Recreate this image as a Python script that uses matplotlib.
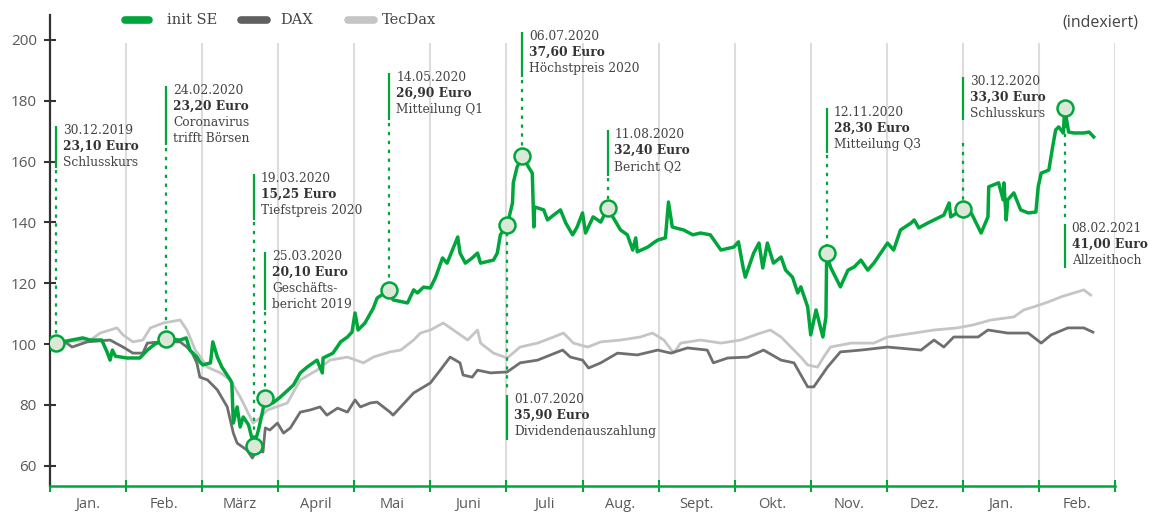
"""init SE share price vs. DAX and TecDax, indexed to 30.12.2019 = 100."""

import matplotlib

matplotlib.use("Agg")
import matplotlib.pyplot as plt
from matplotlib.lines import Line2D

GREEN = "#00a63c"
DAX_GREY = "#6f6f6f"
TEC_GREY = "#c5c5c5"
GRID_GREY = "#dcdcdc"
TEXT_GREY = "#444444"
MARKER_FACE = "#dbe7d7"

months = ["Jan.", "Feb.", "März", "April", "Mai", "Juni", "Juli",
          "Aug.", "Sept.", "Okt.", "Nov.", "Dez.", "Jan.", "Feb."]

# x = months since 1 Jan 2020 (as placed on the chart), y = index value
init_x = [0.08, 0.29, 0.43, 0.53, 0.68, 0.75, 0.79, 0.82, 0.86, 1.01, 1.18, 1.28, 1.38, 1.53,
          1.71, 1.79, 1.84, 1.93, 1.97, 2.01, 2.11, 2.14, 2.20, 2.26, 2.37, 2.39, 2.41, 2.46,
          2.50, 2.54, 2.61, 2.68, 2.74, 2.79, 2.83, 2.93, 3.03, 3.20, 3.29, 3.38, 3.51, 3.58,
          3.59, 3.72, 3.82, 3.91, 3.97, 4.01, 4.05, 4.14, 4.25, 4.30, 4.46, 4.51, 4.70, 4.78,
          4.83, 4.91, 5.00, 5.07, 5.16, 5.22, 5.29, 5.36, 5.39, 5.46, 5.55, 5.62, 5.66, 5.83,
          5.88, 5.92, 6.01, 6.08, 6.09, 6.14, 6.21, 6.29, 6.34, 6.36, 6.37, 6.49, 6.54, 6.62,
          6.71, 6.78, 6.87, 6.93, 7.00, 7.04, 7.14, 7.24, 7.33, 7.50, 7.59, 7.66, 7.70, 7.72,
          7.86, 7.93, 7.99, 8.09, 8.13, 8.18, 8.22, 8.33, 8.45, 8.55, 8.68, 8.82, 8.99, 9.05,
          9.11, 9.14, 9.25, 9.32, 9.37, 9.43, 9.51, 9.61, 9.67, 9.76, 9.83, 9.87, 9.96, 10.00,
          10.07, 10.16, 10.20, 10.21, 10.26, 10.39, 10.49, 10.57, 10.66, 10.75, 10.83, 10.92,
          11.01, 11.09, 11.18, 11.32, 11.36, 11.42, 11.54, 11.67, 11.75, 11.82, 11.84, 12.00,
          12.11, 12.24, 12.33, 12.34, 12.47, 12.53, 12.54, 12.57, 12.59, 12.67, 12.76, 12.86,
          12.96, 12.99, 13.03, 13.13, 13.18, 13.22, 13.26, 13.32, 13.34, 13.39, 13.46, 13.59,
          13.66, 13.72]
init_y = [100.3, 101.3, 102.0, 101.3, 101.3, 97.4, 94.7, 98.0, 96.0, 95.4, 95.4, 98.0, 100.0, 101.6,
          101.3, 102.0, 98.0, 95.7, 94.1, 93.1, 93.8, 100.7, 95.7, 92.4, 88.2, 87.2, 74.0, 79.3,
          72.7, 76.0, 73.4, 66.4, 71.7, 77.3, 82.2, 80.6, 82.6, 86.5, 90.5, 92.4, 94.7, 90.5,
          95.4, 97.0, 100.7, 102.3, 103.9, 110.2, 104.6, 106.9, 111.8, 115.1, 117.8, 114.5, 113.5, 117.8,
          116.8, 118.7, 118.4, 122.0, 128.3, 126.6, 130.9, 135.2, 129.9, 126.6, 128.3, 129.9, 126.6, 127.6,
          129.9, 135.9, 139.1, 146.4, 153.0, 158.2, 161.8, 158.2, 156.2, 138.5, 145.1, 144.1, 140.8, 142.4,
          144.1, 139.8, 135.9, 138.5, 143.1, 136.5, 141.8, 140.1, 144.7, 137.5, 135.9, 130.9, 134.9, 130.3,
          131.9, 133.2, 134.2, 134.9, 146.7, 138.5, 138.2, 137.5, 135.9, 136.5, 135.9, 130.9, 131.9, 133.6,
          125.3, 122.0, 129.9, 133.2, 125.0, 133.2, 126.6, 128.6, 124.3, 122.0, 116.8, 118.8, 112.2, 103.0,
          111.2, 102.3, 108.9, 129.9, 125.3, 118.8, 124.3, 125.3, 127.6, 124.3, 126.6, 129.9,
          133.2, 130.9, 137.5, 139.8, 140.8, 138.2, 139.8, 141.4, 142.4, 146.4, 141.8, 144.4,
          143.1, 136.5, 141.8, 151.7, 153.0, 147.4, 153.0, 140.8, 147.4, 149.7, 144.1, 143.1,
          143.4, 151.7, 156.2, 157.2, 164.8, 170.4, 171.4, 169.4, 177.6, 169.7, 169.4, 169.4,
          169.7, 168.1]

dax_x = [0.08, 0.22, 0.29, 0.49, 0.79, 0.96, 1.09, 1.22, 1.28, 1.45, 1.71, 1.80, 1.87, 1.93,
         1.97, 2.07, 2.20, 2.33, 2.41, 2.46, 2.59, 2.66, 2.72, 2.80, 2.83, 2.89, 2.99, 3.07,
         3.16, 3.29, 3.42, 3.55, 3.64, 3.78, 3.91, 4.01, 4.08, 4.21, 4.30, 4.47, 4.51, 4.61,
         4.78, 5.00, 5.13, 5.26, 5.39, 5.43, 5.55, 5.62, 5.79, 6.01, 6.18, 6.41, 6.58, 6.74,
         6.84, 7.00, 7.08, 7.24, 7.46, 7.72, 7.99, 8.16, 8.38, 8.64, 8.72, 8.91, 9.17, 9.38,
         9.61, 9.78, 9.96, 10.04, 10.22, 10.39, 10.66, 11.01, 11.45, 11.62, 11.75, 11.88, 12.20,
         12.33, 12.59, 12.86, 13.03, 13.16, 13.38, 13.59, 13.71]
dax_y = [100.3, 100.3, 99.0, 100.7, 101.3, 99.0, 97.0, 97.0, 100.3, 100.7, 100.7, 99.0, 97.0, 93.8,
         89.1, 88.2, 84.9, 79.3, 70.7, 67.4, 65.1, 62.5, 65.1, 64.5, 72.4, 71.7, 74.0, 70.7,
         72.4, 77.6, 78.3, 79.3, 76.6, 78.9, 77.6, 81.6, 79.3, 80.6, 80.9, 77.6, 76.6, 79.3,
         83.9, 87.2, 91.4, 95.7, 93.8, 89.8, 89.1, 91.4, 90.5, 90.8, 93.8, 94.7, 96.4, 98.0,
         95.7, 94.7, 92.1, 93.8, 97.0, 96.4, 98.0, 97.0, 98.7, 98.0, 93.8, 95.4, 95.7, 98.0,
         94.7, 93.8, 85.9, 85.9, 92.4, 97.4, 98.0, 99.0, 98.0, 101.3, 99.0, 102.3, 102.3,
         104.6, 103.6, 103.6, 100.3, 103.0, 105.3, 105.3, 103.9]

tec_x = [0.08, 0.17, 0.53, 0.66, 0.88, 0.96, 1.09, 1.22, 1.32, 1.49, 1.71, 1.80, 1.91, 2.07,
         2.24, 2.37, 2.50, 2.67, 2.76, 2.86, 3.12, 3.29, 3.51, 3.68, 3.91, 4.12, 4.25, 4.47,
         4.61, 4.78, 4.87, 5.00, 5.17, 5.36, 5.49, 5.62, 5.66, 5.83, 6.01, 6.18, 6.41, 6.62,
         6.75, 6.88, 7.07, 7.24, 7.50, 7.76, 7.92, 8.07, 8.20, 8.29, 8.55, 8.82, 9.08, 9.34,
         9.47, 9.61, 9.74, 9.87, 9.96, 10.09, 10.17, 10.26, 10.53, 10.83, 11.01, 11.36, 11.62,
         11.93, 12.14, 12.37, 12.67, 12.80, 12.93, 13.12, 13.29, 13.46, 13.59, 13.68]
tec_y = [100.3, 100.7, 101.3, 103.6, 105.3, 103.0, 100.7, 101.3, 105.3, 106.9, 107.9, 104.6, 98.0, 92.4,
         90.5, 88.2, 82.6, 74.0, 75.7, 78.3, 80.6, 88.2, 91.4, 94.7, 95.7, 93.8, 95.7, 97.4,
         98.0, 101.3, 103.6, 104.6, 106.9, 103.6, 101.3, 104.6, 100.3, 97.0, 95.4, 99.0, 100.3, 102.3,
         103.6, 100.3, 99.0, 100.7, 101.3, 102.3, 103.6, 101.3, 97.0, 100.3, 101.3, 100.3, 101.3, 103.6,
         104.6, 102.3, 99.0, 95.7, 93.1, 92.4, 95.7, 99.0, 100.3, 100.3, 102.3, 103.6, 104.6,
         105.3, 106.3, 107.9, 108.9, 111.2, 112.2, 113.8, 115.5, 116.8, 117.8, 116.1]

# highlighted events on the init SE line
event_x = [0.08, 1.53, 2.68, 2.83, 4.46, 6.01, 6.21, 7.33, 10.21, 12.00, 13.34]
event_y = [100.3, 101.6, 66.4, 82.2, 117.8, 139.1, 161.8, 144.7, 129.9, 144.4, 177.6]
event_date = ["30.12.2019", "24.02.2020", "19.03.2020", "25.03.2020", "14.05.2020", "01.07.2020",
              "06.07.2020", "11.08.2020", "12.11.2020", "30.12.2020", "08.02.2021"]
event_price = ["23,10 Euro", "23,20 Euro", "15,25 Euro", "20,10 Euro", "26,90 Euro", "35,90 Euro",
               "37,60 Euro", "32,40 Euro", "28,30 Euro", "33,30 Euro", "41,00 Euro"]
event_note = ["Schlusskurs", "Coronavirus\ntrifft Börsen", "Tiefstpreis 2020", "Geschäfts-\nbericht 2019",
              "Mitteilung Q1", "Dividendenauszahlung", "Höchstpreis 2020", "Bericht Q2",
              "Mitteilung Q3", "Schlusskurs", "Allzeithoch"]

# label layout: solid bar (top, bottom) and dotted leader (from, to), in index units
label_bar = [(171.7, 157.9), (184.9, 165.5), (155.9, 140.8), (130.3, 111.2), (189.1, 173.7),
             (83.2, 68.4), (202.6, 187.8), (170.4, 155.3), (177.6, 162.8), (187.8, 173.7),
             (139.5, 125.0)]
label_dots = [(157.2, 103.0), (164.5, 104.3), (140.1, 69.1), (110.5, 84.9), (172.7, 120.5),
              (136.4, 84.0), (186.8, 164.5), (154.6, 147.4), (162.1, 132.6), (166.1, 147.1),
              (174.9, 140.2)]

W, H = 1149, 513
fig = plt.figure(figsize=(W / 100, H / 100), dpi=100)
ax = fig.add_axes([50 / W, 27 / H, 1065 / W, 471 / H])
ax.set_xlim(0, 14)
ax.set_ylim(53.3, 208.2)

ax.vlines(range(1, 15), 53.3, 199, color=GRID_GREY, lw=1.5, zorder=0)

ax.plot(tec_x, tec_y, color=TEC_GREY, lw=2.0, zorder=2, solid_joinstyle="round")
ax.plot(dax_x, dax_y, color=DAX_GREY, lw=2.0, zorder=3, solid_joinstyle="round")
ax.plot(init_x, init_y, color=GREEN, lw=2.5, zorder=4, solid_joinstyle="round")

serif = "DejaVu Serif"
for i in range(len(event_x)):
    x = event_x[i]
    top, bottom = label_bar[i]
    ax.plot([x, x], [top, bottom], color=GREEN, lw=1.6, zorder=5, solid_capstyle="butt")
    ax.plot([x, x], list(label_dots[i]), color=GREEN, lw=1.6, ls=(0, (1.5, 2.5)), zorder=5)
    lines = [event_date[i], event_price[i]] + event_note[i].split("\n")
    for k, line in enumerate(lines):
        ax.text(x + 0.09, top - 1.4 - k * 5.26, line, fontsize=8.8, family=serif,
                color="#333333" if k == 1 else TEXT_GREY,
                fontweight="bold" if k == 1 else "normal", va="center", ha="left", zorder=6)

ax.plot(event_x, event_y, "o", ms=11.5, mfc=MARKER_FACE, mec=GREEN, mew=1.8, zorder=7)

for side in ("top", "right"):
    ax.spines[side].set_visible(False)
ax.spines["left"].set_color("#333333")
ax.spines["left"].set_linewidth(1.6)
ax.spines["bottom"].set_color(GREEN)
ax.spines["bottom"].set_linewidth(1.8)

ax.set_yticks(range(60, 201, 20))
ax.tick_params(axis="y", direction="inout", length=9, width=1.5, color="#333333",
               labelsize=11, labelcolor="#595959", pad=5)
ax.set_xticks(range(15))
ax.set_xticklabels([])
ax.tick_params(axis="x", which="major", direction="inout", length=8, width=1.5, color=GREEN)
ax.set_xticks([m + 0.5 for m in range(14)], minor=True)
ax.set_xticklabels(months, minor=True)
ax.tick_params(axis="x", which="minor", length=0, labelsize=10.5, labelcolor="#595959", pad=8)
for lbl in ax.get_yticklabels() + ax.get_xticklabels(minor=True):
    lbl.set_family("Open Sans")

legend_items = [("init SE", GREEN, 125, 149, 167), ("DAX", "#606060", 241, 267, 280),
                ("TecDax", TEC_GREY, 348, 374, 382)]
for name, col, x0, x1, xt in legend_items:
    fig.add_artist(Line2D([x0 / W, x1 / W], [1 - 20 / H] * 2, transform=fig.transFigure,
                          color=col, lw=5.5, solid_capstyle="round"))
    fig.text(xt / W, 1 - 20 / H, name, family=serif, fontsize=10.5, color=TEXT_GREY,
             va="center", ha="left")
fig.text(1138 / W, 1 - 23 / H, "(indexiert)", family="Open Sans", fontsize=11.5,
         color=TEXT_GREY, va="center", ha="right")

fig.savefig("out.png", dpi=100)
